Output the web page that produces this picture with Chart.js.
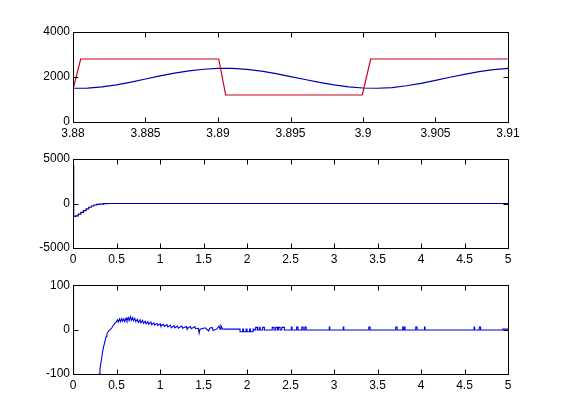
<!DOCTYPE html>
<html>
<head>
<meta charset="utf-8">
<script src="https://cdn.jsdelivr.net/npm/chart.js@4.4.1/dist/chart.umd.min.js"></script>
<style>
html, body { margin: 0; padding: 0; background: #fff; }
#wrap { position: relative; width: 561px; height: 420px; overflow: hidden; background: #fff; }
canvas { position: absolute; left: 0; }
</style>
</head>
<body>
<div id="wrap">
  <canvas id="c1" width="561" height="145" style="top:0px"></canvas>
  <canvas id="c2" width="561" height="130" style="top:145px"></canvas>
  <canvas id="c3" width="561" height="145" style="top:275px"></canvas>
</div>
<script>
// ---- panel 1 : zoom on 3.88 .. 3.91
const redX1 = [3.88, 3.88053, 3.89005, 3.89053, 3.89995, 3.90053, 3.91];
const redY1 = [1450, 2800, 2800, 1200, 1200, 2800, 2800];
const blueX1 = [3.880, 3.881, 3.882, 3.883, 3.884, 3.885, 3.886, 3.887, 3.888, 3.889, 3.890,
                3.891, 3.892, 3.893, 3.894, 3.895, 3.896, 3.897, 3.898, 3.899, 3.900,
                3.901, 3.902, 3.903, 3.904, 3.905, 3.906, 3.907, 3.908, 3.909, 3.910];
const blueY1 = [1500, 1505, 1560, 1650, 1770, 1910, 2050, 2170, 2270, 2345, 2385,
                2385, 2340, 2260, 2150, 2020, 1890, 1760, 1650, 1565, 1510,
                1500, 1530, 1610, 1720, 1850, 1990, 2120, 2235, 2325, 2385];
const xTicks1 = [3.88, 3.885, 3.89, 3.895, 3.9, 3.905, 3.91];
const xLabels1 = ['3.88', '3.885', '3.89', '3.895', '3.9', '3.905', '3.91'];
const yTicks1 = [0, 2000, 4000];
const yLabels1 = ['0', '2000', '4000'];

// ---- panel 2 : 0 .. 5 s
const x2 = [0, 0.008, 0.03, 0.06, 0.09, 0.12, 0.15, 0.18, 0.21, 0.24, 0.27, 0.30, 0.35, 0.40, 5];
const y2 = [4200, -1450, -1400, -1200, -1000, -800, -600, -420, -280, -170, -100, -60, -10, 0, 0];
const yTicks2 = [-5000, 0, 5000];
const yLabels2 = ['-5000', '0', '5000'];

// ---- panel 3 : 0 .. 5 s, zoomed in y
const x3a = [0, 0.006, 0.295, 0.300, 0.310, 0.320, 0.330, 0.340, 0.350, 0.360, 0.370, 0.380, 0.390,
             0.400, 0.420, 0.440, 0.460, 0.480, 0.500,
             0.510, 0.520, 0.535, 0.545, 0.560, 0.570, 0.585, 0.595, 0.610, 0.620, 0.635, 0.645,
             0.660, 0.670, 0.685, 0.695, 0.710, 0.720, 0.740, 0.750, 0.770, 0.780, 0.800, 0.810,
             0.830, 0.840, 0.860, 0.870, 0.895, 0.905, 0.930, 0.940, 0.965, 0.975, 1.000, 1.010,
             1.040, 1.050, 1.080, 1.090, 1.120, 1.130, 1.160, 1.170, 1.200, 1.210, 1.250, 1.260,
             1.300, 1.310, 1.350, 1.360, 1.400, 1.410, 1.440, 1.450, 1.460, 1.500, 1.520, 1.560,
             1.570, 1.600, 1.610, 1.650, 1.680, 1.690, 1.700, 1.720, 1.730];
const y3a = [300, -300, -300, -100, -88, -76, -64, -50, -40, -32, -24, -16, -10,
             -6, -1, 2, 8, 14, 18,
             22, 17, 24, 18, 25, 19, 24, 18, 26, 20, 27, 20,
             29, 21, 27, 20, 25, 18, 23, 16, 22, 15, 21, 14,
             19, 13, 18, 12, 17, 11, 15, 10, 14, 9, 13, 8,
             12, 7, 11, 6, 10, 4, 9, 4, 8, 3, 8, 3,
             7, 2, 7, 2, 7, 2, 3, -8, 1, 3, 4, -3,
             3, 5, -2, 1, 8, 1, 9, 1, 1];
const x3b = [1.73, 1.92, 1.95, 1.96, 1.99, 2.00, 2.03, 2.04, 2.07, 2.08, 2.10, 2.12, 2.14, 2.15,
             2.18, 2.20, 2.29, 2.31, 2.33, 2.35, 2.36, 2.38, 2.40, 2.43, 2.51, 2.517, 2.57, 2.585,
             2.63, 2.645, 2.665, 2.68, 2.946, 2.952, 3.107, 3.113, 3.40, 3.415, 3.71, 3.725,
             3.79, 3.796, 3.81, 3.816, 3.94, 3.955, 4.04, 4.046, 4.61, 4.616, 4.67, 4.685, 4.94, 5.0];
const y3b = [1, -5, 1, -5, 1, -5, 1, -5, 1, -1, 5, -1, 5, -1,
             5, -1, 5, -1, 5, -1, 5, -1, 5, -1, 6, -1, 6, -1,
             6, -1, 6, -1, 6, -1, 6, -1, 6, -1, 6, -1,
             6, -1, 6, -1, 6, -1, 6, -1, 6, -1, 6, -1, 1, 1];
const yTicks3 = [-100, 0, 100];
const yLabels3 = ['-100', '0', '100'];

const xTicks23 = [0, 0.5, 1, 1.5, 2, 2.5, 3, 3.5, 4, 4.5, 5];
const xLabels23 = ['0', '0.5', '1', '1.5', '2', '2.5', '3', '3.5', '4', '4.5', '5'];

Chart.defaults.font.family = '"Liberation Sans", Arial, Helvetica, sans-serif';
Chart.defaults.font.size = 12;
Chart.defaults.color = '#000';

function pts(xs, ys) {
    return xs.map((x, i) => ({x: x, y: ys[i]}));
}

// box round the axes with inward ticks on every side, like matlab
const boxPlugin = {
    id: 'matlabBox',
    afterDraw(chart) {
        const ctx = chart.ctx;
        const a = chart.chartArea;
        const l = Math.round(a.left) + 0.5, r = Math.round(a.right) + 0.5;
        const t = Math.round(a.top) + 0.5, b = Math.round(a.bottom) + 0.5;
        const xs = chart.scales.x, ys = chart.scales.y;
        ctx.save();
        ctx.strokeStyle = '#000';
        ctx.lineWidth = 1;
        ctx.beginPath();
        ctx.rect(l, t, r - l, b - t);
        xs.ticks.forEach(tk => {
            const px = Math.round(xs.getPixelForValue(tk.value)) + 0.5;
            ctx.moveTo(px, b); ctx.lineTo(px, b - 5);
            ctx.moveTo(px, t); ctx.lineTo(px, t + 5);
        });
        ys.ticks.forEach(tk => {
            const py = Math.round(ys.getPixelForValue(tk.value)) + 0.5;
            ctx.moveTo(l, py); ctx.lineTo(l + 5, py);
            ctx.moveTo(r, py); ctx.lineTo(r - 5, py);
        });
        ctx.stroke();
        ctx.restore();
    }
};

function makePanel(id, datasets, xr, xTicks, xLabels, yr, yTicks, yLabels, padTop, xAxisH) {
    const ctx = document.getElementById(id).getContext('2d');
    return new Chart(ctx, {
        type: 'line',
        data: { datasets: datasets },
        options: {
            responsive: false,
            animation: false,
            devicePixelRatio: 1,
            layout: { padding: { top: padTop, left: 0, right: 53, bottom: 0 } },
            elements: { point: { radius: 0 } },
            plugins: { legend: { display: false }, tooltip: { enabled: false } },
            scales: {
                x: {
                    type: 'linear', min: xr[0], max: xr[1],
                    grid: { display: false, drawTicks: false },
                    border: { display: false },
                    afterBuildTicks: s => { s.ticks = xTicks.map(v => ({value: v})); },
                    afterFit: s => { s.height = xAxisH; },
                    ticks: { autoSkip: false, maxRotation: 0, padding: 4,
                             callback: (v, i) => xLabels[i] }
                },
                y: {
                    type: 'linear', min: yr[0], max: yr[1],
                    grid: { display: false, drawTicks: false },
                    border: { display: false },
                    afterBuildTicks: s => { s.ticks = yTicks.map(v => ({value: v})); },
                    afterFit: s => { s.width = 73; },
                    ticks: { autoSkip: false, padding: 3,
                             callback: (v, i) => yLabels[i] }
                }
            }
        },
        plugins: [boxPlugin]
    });
}

makePanel('c1', [
    { data: pts(redX1, redY1), borderColor: 'rgb(200,0,30)', borderWidth: 1.2 },
    { data: pts(blueX1, blueY1), borderColor: 'rgb(0,0,170)', borderWidth: 1.2 }
], [3.88, 3.91], xTicks1, xLabels1, [0, 4000], yTicks1, yLabels1, 32, 23);

makePanel('c2', [
    { data: pts(x2, y2), borderColor: 'rgb(0,0,170)', borderWidth: 1.2, stepped: true }
], [0, 5], xTicks23, xLabels23, [-5000, 5000], yTicks2, yLabels2, 14, 27);

makePanel('c3', [
    { data: pts(x3a, y3a), borderColor: 'rgb(0,0,230)', borderWidth: 1.1 },
    { data: pts(x3b, y3b), borderColor: 'rgb(0,0,230)', borderWidth: 1.1, stepped: true }
], [0, 5], xTicks23, xLabels23, [-100, 100], yTicks3, yLabels3, 9, 46);
</script>
</body>
</html>
